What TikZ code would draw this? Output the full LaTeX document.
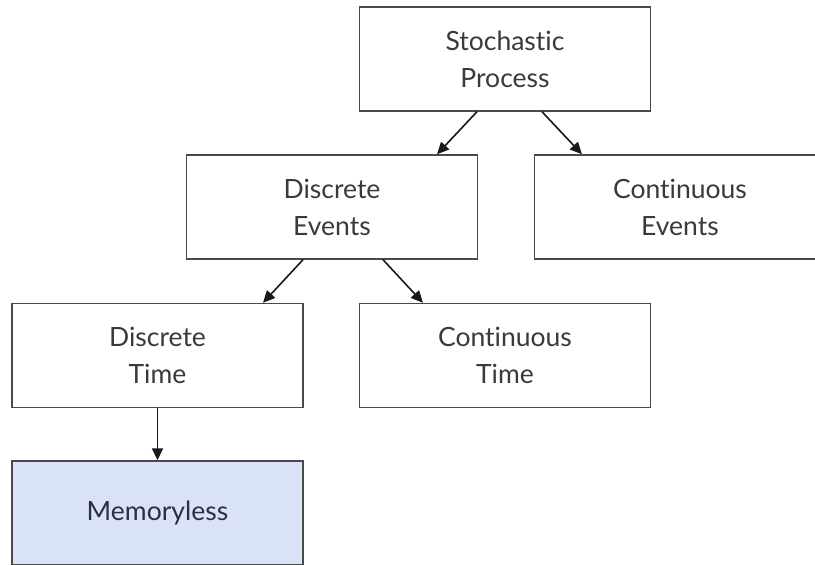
\documentclass[tikz,border=0pt]{standalone}
\usepackage{fontspec}
\setmainfont{Lato}[Ligatures={NoCommon,NoRare,NoContextual}]
\usetikzlibrary{arrows.meta}
\definecolor{boxline}{HTML}{4A4A4A}
\definecolor{txt}{HTML}{3A3A3A}
\definecolor{memfill}{HTML}{DAE2F8}
\definecolor{memtxt}{HTML}{2A3142}
\begin{document}
\begin{tikzpicture}[
  x=1pt, y=1pt,
  box/.style={draw=boxline, line width=1.4pt, fill=white, text=txt,
    minimum width=291pt, minimum height=104pt, align=center,
    font=\fontsize{26.5}{37}\selectfont, inner sep=0pt},
  conn/.style={draw=black!90, line width=1.6pt,
    -{Triangle[length=12pt, width=11pt]}}
]
\clip (0,0) rectangle (815,-565);
\fill[white] (0,0) rectangle (815,-565);

\node[box] (sp) at (505,-59)     {Stochastic\\Process};
\node[box] (de) at (332,-207)    {Discrete\\Events};
\node[box] (ce) at (680,-207)    {Continuous\\Events};
\node[box] (dt) at (157.5,-355.5) {Discrete\\Time};
\node[box] (ct) at (505,-355.5)   {Continuous\\Time};
\node[box, fill=memfill, text=memtxt] (ml) at (157.5,-513) {Memoryless};

\draw[conn] ([xshift=-28pt]sp.south) -- ([xshift=105pt]de.north);
\draw[conn] ([xshift=37pt]sp.south)  -- ([xshift=-98pt]ce.north);
\draw[conn] ([xshift=-29pt]de.south) -- ([xshift=105.5pt]dt.north);
\draw[conn] ([xshift=51pt]de.south)  -- ([xshift=-82pt]ct.north);
\draw[conn] (dt.south) -- (ml.north);
\end{tikzpicture}
\end{document}
